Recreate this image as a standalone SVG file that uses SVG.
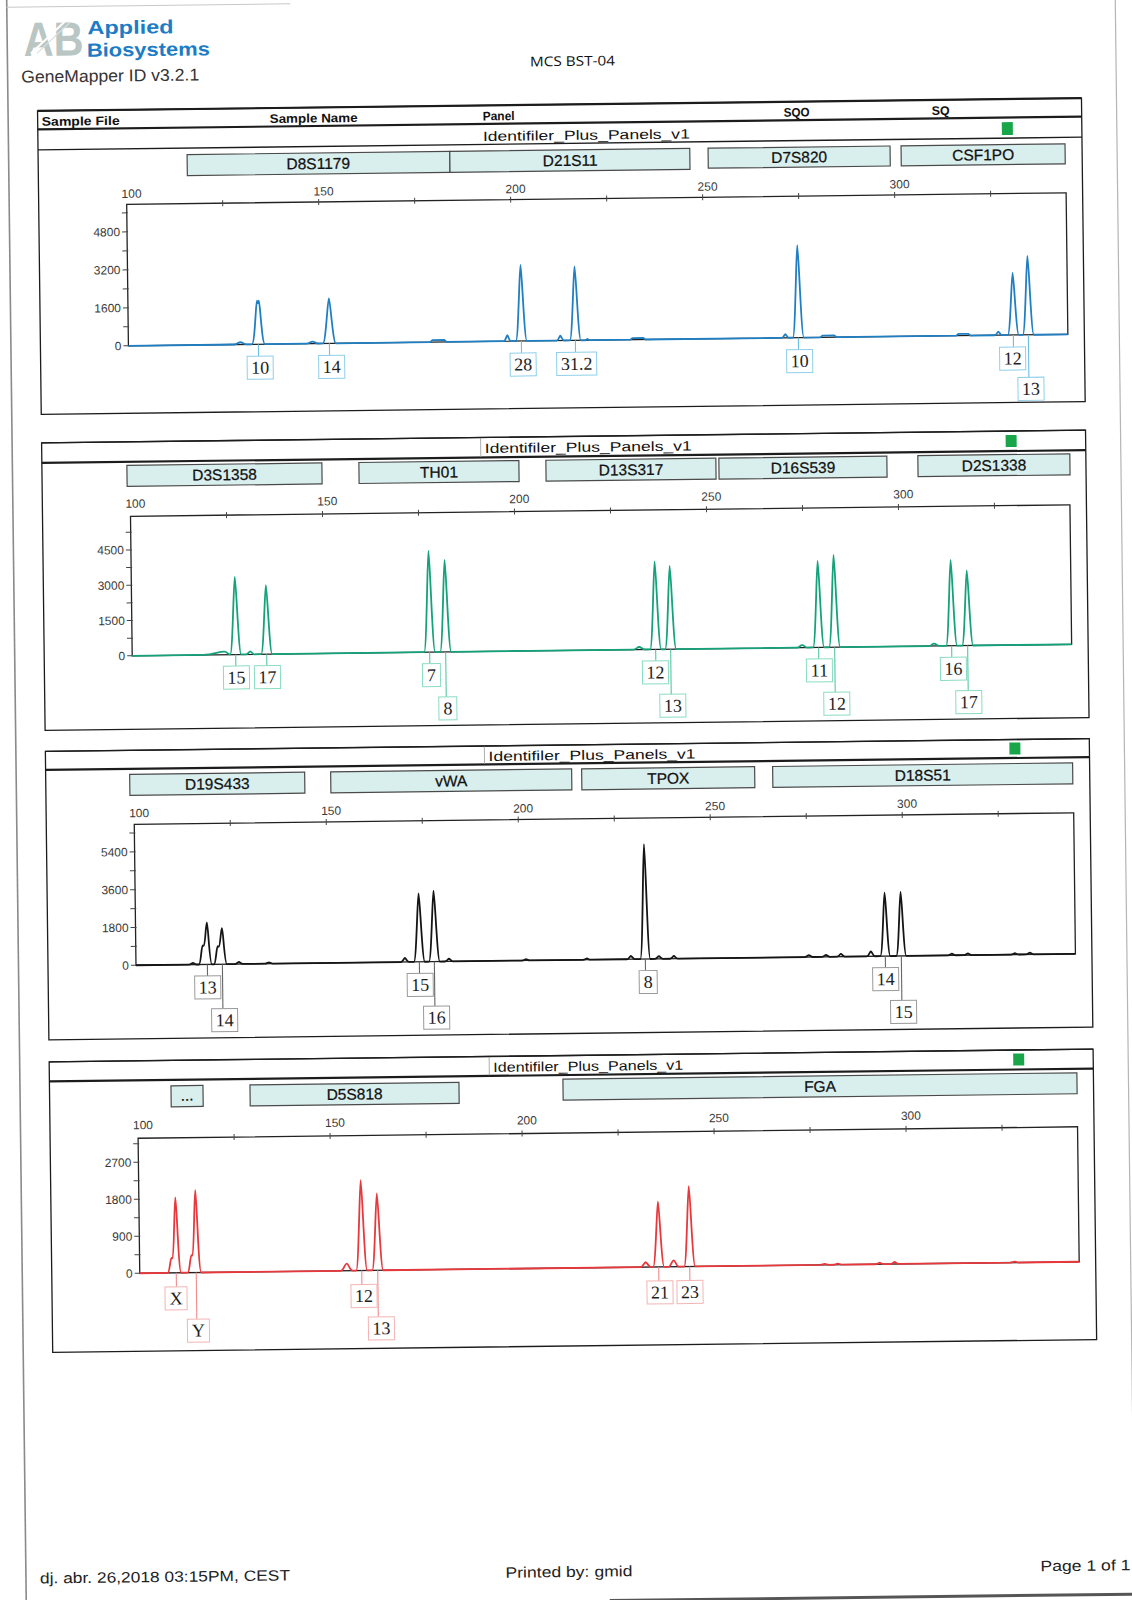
<svg xmlns="http://www.w3.org/2000/svg" width="1132" height="1600" viewBox="0 0 1132 1600">
<style>
.sans{font-family:"Liberation Sans",Arial,sans-serif}
.serif{font-family:"Liberation Serif","Times New Roman",serif}
.frame{fill:none;stroke:#1c1c1c;stroke-width:1.3}
.thick{stroke:#1c1c1c;stroke-width:2.2;fill:none}
.thin{stroke:#1c1c1c;stroke-width:1.4;fill:none}
.col{stroke:#9a9a9a;stroke-width:0.8}
.hdr{font-family:"Liberation Sans",Arial,sans-serif;font-size:12.5px;font-weight:bold;fill:#111}
.panel{font-family:"Liberation Sans",Arial,sans-serif;font-size:13.5px;fill:#111}
.sq{fill:#19a64a}
.loc{fill:#d9efee;stroke:#4a4a4a;stroke-width:1.2}
.lt{font-family:"Liberation Sans",Arial,sans-serif;font-size:15.5px;fill:#111;stroke:#111;stroke-width:0.25;text-anchor:middle}
.ax{font-family:"Liberation Sans",Arial,sans-serif;font-size:12px;fill:#3a3a3a;text-anchor:middle}
.yl{font-family:"Liberation Sans",Arial,sans-serif;font-size:12px;fill:#3a3a3a;text-anchor:end}
.plot{fill:#fff;stroke:#222;stroke-width:1.3}
.tick{stroke:#444;stroke-width:1;fill:none}
.al{font-family:"Liberation Serif","Times New Roman",serif;font-size:18px;fill:#1e1e1e;text-anchor:middle}
.tr{fill:none;stroke-width:1.8;stroke-linejoin:round}
.b1{fill:#fff;stroke:#8fd0ea;stroke-width:1}
.b2{fill:#fff;stroke:#8adcc4;stroke-width:1}
.b3{fill:#fff;stroke:#9a9a9a;stroke-width:1}
.b4{fill:#fff;stroke:#f4b4b4;stroke-width:1}
.c1{stroke:#6cc0e6;stroke-width:1.1}
.c2{stroke:#55c8a4;stroke-width:1.1}
.c3{stroke:#666;stroke-width:1.1}
.c4{stroke:#f08c8c;stroke-width:1.1}
</style>
<rect x="0" y="0" width="1132" height="1600" fill="#fff"/>
<g transform="rotate(-0.7 566 800)">
  <g id="page">
    <line x1="16.5" y1="-20" x2="16.5" y2="1620" stroke="#8a8a8a" stroke-width="1.6"/>
    <line x1="1125" y1="-20" x2="1125" y2="1590" stroke="#b5b5b5" stroke-width="1.2"/>
    <line x1="16" y1="0.5" x2="300" y2="0.5" stroke="#c8c8c8" stroke-width="1"/>
    <line x1="600" y1="1601" x2="1130" y2="1601" stroke="#555" stroke-width="3"/>
  </g>

  <g id="header">
    <text x="33" y="49.5" class="sans" font-size="48" font-weight="bold" fill="#b9c6c4" textLength="60" lengthAdjust="spacingAndGlyphs">AB</text>
    <line x1="40" y1="47" x2="74" y2="16" stroke="#fff" stroke-width="2"/>
    <line x1="46" y1="47" x2="80" y2="16" stroke="#d8e0df" stroke-width="1.2"/>
    <text x="97" y="28.5" class="sans" font-size="19" font-weight="bold" fill="#1d7cc6" textLength="86" lengthAdjust="spacingAndGlyphs">Applied</text>
    <text x="96" y="51" class="sans" font-size="19" font-weight="bold" fill="#1d7cc6" textLength="123" lengthAdjust="spacingAndGlyphs">Biosystems</text>
    <text x="30" y="76" class="sans" font-size="17" fill="#333" textLength="178" lengthAdjust="spacingAndGlyphs">GeneMapper ID v3.2.1</text>
    <text x="539" y="66" font-family="'Open Sans','Liberation Sans',sans-serif" font-size="13.5" fill="#111" textLength="85" lengthAdjust="spacingAndGlyphs">MCS BST-04</text>
  </g>

  <!-- PANEL 1 -->
  <g id="panel1">
    <rect x="46" y="104.5" width="1044" height="303.5" class="frame"/>
    <line x1="46" y1="104.5" x2="1090" y2="104.5" class="thick"/>
    <line x1="46" y1="123" x2="1090" y2="123" class="thick"/>
    <line x1="46" y1="143.5" x2="1090" y2="143.5" class="thin"/>
    <text x="50" y="119.5" class="hdr" textLength="78" lengthAdjust="spacingAndGlyphs">Sample File</text>
    <text x="278" y="119.5" class="hdr" textLength="88" lengthAdjust="spacingAndGlyphs">Sample Name</text>
    <text x="491" y="119.5" class="hdr" textLength="32" lengthAdjust="spacingAndGlyphs">Panel</text>
    <text x="792" y="119.5" class="hdr" textLength="26" lengthAdjust="spacingAndGlyphs">SQO</text>
    <text x="940" y="119.5" class="hdr" textLength="18" lengthAdjust="spacingAndGlyphs">SQ</text>
    <text x="491" y="140" class="panel" textLength="207" lengthAdjust="spacingAndGlyphs">Identifiler_Plus_Panels_v1</text>
    <rect x="1010" y="127.5" width="11" height="13" class="sq"/>
    <g id="p1-loci">
      <rect x="195" y="150" width="262.7" height="21" class="loc"/>
      <text x="326" y="166" class="lt">D8S1179</text>
      <rect x="457.7" y="150" width="240" height="21" class="loc"/>
      <text x="578" y="166" class="lt">D21S11</text>
      <rect x="716" y="150" width="182" height="20" class="loc"/>
      <text x="807" y="165.5" class="lt">D7S820</text>
      <rect x="909" y="150" width="164" height="20" class="loc"/>
      <text x="991" y="165.5" class="lt">CSF1PO</text>
    </g>
    <g id="p1-axes">
      <text x="139" y="192.5" class="ax">100</text>
      <text x="331" y="192.5" class="ax">150</text>
      <text x="523" y="192.5" class="ax">200</text>
      <text x="715" y="192.5" class="ax">250</text>
      <text x="907" y="192.5" class="ax">300</text>
      <rect x="134" y="199" width="939.5" height="141.5" class="plot"/>
      <path class="tick" d="M129 321.5h6M129 302.5h6M129 283.5h6M129 264.5h6M129 245.5h6M129 226.5h6M129 207.5h6M129 340.5h5M230 196v6M326 196v6M422 196v6M518 196v6M614 196v6M710 196v6M806 196v6M902 196v6M998 196v6"/>
      <text x="127" y="230.8" class="yl">4800</text>
      <text x="127" y="268.8" class="yl">3200</text>
      <text x="127" y="306.8" class="yl">1600</text>
      <text x="127" y="344.8" class="yl">0</text>
    </g>
    <path id="p1-trace" class="tr" stroke="#1f7fc2" d="M134 340.5 L240 340.5 C243 340.5 244 338.1 246 338.1 C248 338.1 249 340.5 252 340.5 L257.5 340.5 C260.5 340.5 262 297 263 297 L264 299.5 L265 297 C266 297 267.5 340.5 270.5 340.5 L312 340.5 C315 340.5 316 338.5 318 338.5 C320 338.5 321 340.5 324 340.5 L328.5 340.5 C331.5 340.5 333.7 295.5 335 295.5 C336.3 295.5 338.5 340.5 341.5 340.5 L436 340.5 L438 338.5 L450 338.5 L452 340.5 L509.5 340.5 C511 340.5 512.3 334.5 513 334.5 C513.7 334.5 515 340.5 516.5 340.5 L521.5 340.5 C524 340.5 525.9 264.5 527 264.5 C528.1 264.5 530 340.5 532.5 340.5 L562.5 340.5 C564 340.5 565.3 335.7 566 335.7 C566.7 335.7 568 340.5 569.5 340.5 L575.5 340.5 C578 340.5 579.9 266.5 581 266.5 C582.1 266.5 584 340.5 586.5 340.5 L591 340.5 L593 339.3 L595 340.5 L636 340.5 L638 339 L649 339 L651 340.5 L787.5 340.5 C789 340.5 790.3 336.9 791 336.9 C791.7 336.9 793 340.5 794.5 340.5 L798.5 340.5 C801 340.5 802.9 247.9 804 247.9 C805.1 247.9 807 340.5 809.5 340.5 L826 340.5 L828 338.8 L840 338.8 L842 340.5 L962 340.5 L964 338.8 L974 338.8 L976 340.5 L1000.5 340.5 C1002 340.5 1003.3 336.9 1004 336.9 C1004.7 336.9 1006 340.5 1007.5 340.5 L1013.5 340.5 C1016 340.5 1017.9 278.5 1019 278.5 C1020.1 278.5 1022 340.5 1024.5 340.5 L1028.5 340.5 C1031 340.5 1032.9 261.5 1034 261.5 C1035.1 261.5 1037 340.5 1039.5 340.5 L1073.5 340.5"/>
    <g id="connectors-p1">
      <line x1="264" y1="340.5" x2="264" y2="352.5" class="c1"/>
      <line x1="335" y1="340.5" x2="335" y2="352.5" class="c1"/>
      <line x1="527" y1="340.5" x2="527" y2="352.5" class="c1"/>
      <line x1="581" y1="340.5" x2="581" y2="352.5" class="c1"/>
      <line x1="804" y1="340.5" x2="804" y2="352.5" class="c1"/>
      <line x1="1019" y1="340.5" x2="1019" y2="352.5" class="c1"/>
      <line x1="1034" y1="340.5" x2="1034" y2="383" class="c1"/>
    </g>
    <g id="p1-alleles">
      <rect x="252.5" y="352.5" width="26" height="23" class="b1"/><text x="265.5" y="370" class="al">10</text>
      <rect x="324" y="352.5" width="26" height="23" class="b1"/><text x="337" y="370" class="al">14</text>
      <rect x="515.5" y="352.5" width="26" height="23" class="b1"/><text x="528.5" y="370" class="al">28</text>
      <rect x="562" y="352.5" width="40" height="23" class="b1"/><text x="582" y="370" class="al">31.2</text>
      <rect x="792" y="352.5" width="26" height="23" class="b1"/><text x="805" y="370" class="al">10</text>
      <rect x="1005" y="352.5" width="26" height="23" class="b1"/><text x="1018" y="370" class="al">12</text>
      <rect x="1023" y="383" width="26" height="23" class="b1"/><text x="1036" y="400.5" class="al">13</text>
    </g>
  </g>

  <!-- PANEL 2 -->
  <g id="panel2">
    <rect x="46" y="436.5" width="1044" height="287.5" class="frame"/>
    <line x1="46" y1="436.5" x2="1090" y2="436.5" class="thin"/>
    <line x1="46" y1="456.5" x2="1090" y2="456.5" class="thick"/>
    <line x1="485" y1="437" x2="485" y2="456" class="col"/>
    <text x="489" y="452" class="panel" textLength="207" lengthAdjust="spacingAndGlyphs">Identifiler_Plus_Panels_v1</text>
    <rect x="1010" y="440.5" width="11" height="12" class="sq"/>
    <g id="p2-loci">
      <rect x="131" y="460" width="195" height="21" class="loc"/>
      <text x="228.5" y="476" class="lt">D3S1358</text>
      <rect x="363" y="460" width="160" height="21" class="loc"/>
      <text x="443" y="476" class="lt">TH01</text>
      <rect x="550" y="460" width="170" height="21" class="loc"/>
      <text x="635" y="476" class="lt">D13S317</text>
      <rect x="723" y="460" width="168" height="21" class="loc"/>
      <text x="807" y="476" class="lt">D16S539</text>
      <rect x="922" y="460" width="152" height="21" class="loc"/>
      <text x="998" y="476" class="lt">D2S1338</text>
    </g>
    <g id="p2-axes">
      <text x="139" y="502.5" class="ax">100</text>
      <text x="331" y="502.5" class="ax">150</text>
      <text x="523" y="502.5" class="ax">200</text>
      <text x="715" y="502.5" class="ax">250</text>
      <text x="907" y="502.5" class="ax">300</text>
      <rect x="134" y="511" width="939.5" height="139.5" class="plot"/>
      <path class="tick" d="M129 632.85h6M129 615.2h6M129 597.55h6M129 579.9h6M129 562.25h6M129 544.6h6M129 526.95h6M129 650.5h5M230 508v6M326 508v6M422 508v6M518 508v6M614 508v6M710 508v6M806 508v6M902 508v6M998 508v6"/>
      <text x="127" y="548.9" class="yl">4500</text>
      <text x="127" y="584.2" class="yl">3000</text>
      <text x="127" y="619.5" class="yl">1500</text>
      <text x="127" y="654.8" class="yl">0</text>
    </g>
    <path id="p2-trace" class="tr" stroke="#13a27a" d="M134 650.5 L205 650.5 C215 650.5 220 647.5 226 647.5 C229 647.5 230 650.5 232 650.5 C234.5 650.5 236.4 572.8 237.5 572.8 C238.6 572.8 240.5 650.5 243 650.5 L248 650.5 C250 650.5 250.8 647.5 252 647.5 C253.2 647.5 254 650.5 256 650.5 L263 650.5 C265.5 650.5 267.4 581.5 268.5 581.5 C269.6 581.5 271.5 650.5 274 650.5 L426 650.5 C428.5 650.5 430.4 549.3 431.5 549.3 C432.6 549.3 434.5 650.5 437 650.5 L442 650.5 C444.5 650.5 446.4 558.5 447.5 558.5 C448.6 558.5 450.5 650.5 453 650.5 L635 650.5 C638 650.5 639 647.9 641 647.9 C643 647.9 644 650.5 647 650.5 L652 650.5 C654.5 650.5 656.4 562.5 657.5 562.5 C658.6 562.5 660.5 650.5 663 650.5 L667 650.5 C669.5 650.5 671.4 567.2 672.5 567.2 C673.6 567.2 675.5 650.5 678 650.5 L799 650.5 C801 650.5 802 648.1 804 648.1 C806 648.1 807 650.5 809 650.5 L815 650.5 C817.5 650.5 819.4 564.1 820.5 564.1 C821.6 564.1 823.5 650.5 826 650.5 L831 650.5 C833.5 650.5 835.4 558.3 836.5 558.3 C837.6 558.3 839.5 650.5 842 650.5 L931 650.5 C933 650.5 934 648.1 936 648.1 C938 648.1 939 650.5 941 650.5 L948 650.5 C950.5 650.5 952.4 564.6 953.5 564.6 C954.6 564.6 956.5 650.5 959 650.5 L964 650.5 C966.5 650.5 968.4 575.4 969.5 575.4 C970.6 575.4 972.5 650.5 975 650.5 L1073.5 650.5"/>
    <g id="connectors-p2">
      <line x1="237.5" y1="650.5" x2="237.5" y2="662" class="c2"/>
      <line x1="268.5" y1="650.5" x2="268.5" y2="662" class="c2"/>
      <line x1="431.5" y1="650.5" x2="431.5" y2="662" class="c2"/>
      <line x1="447.5" y1="650.5" x2="447.5" y2="695.5" class="c2"/>
      <line x1="657.5" y1="650.5" x2="657.5" y2="662" class="c2"/>
      <line x1="672.5" y1="650.5" x2="672.5" y2="695.5" class="c2"/>
      <line x1="820.5" y1="650.5" x2="820.5" y2="662" class="c2"/>
      <line x1="836.5" y1="650.5" x2="836.5" y2="695.5" class="c2"/>
      <line x1="953.5" y1="650.5" x2="953.5" y2="662" class="c2"/>
      <line x1="969.5" y1="650.5" x2="969.5" y2="695.5" class="c2"/>
    </g>
    <g id="p2-alleles">
      <rect x="225" y="662" width="26" height="23" class="b2"/><text x="238" y="679.5" class="al">15</text>
      <rect x="256" y="662" width="26" height="23" class="b2"/><text x="269" y="679.5" class="al">17</text>
      <rect x="424" y="662" width="18" height="23" class="b2"/><text x="433" y="679.5" class="al">7</text>
      <rect x="440" y="695.5" width="18" height="23" class="b2"/><text x="449" y="713" class="al">8</text>
      <rect x="644" y="662" width="26" height="23" class="b2"/><text x="657" y="679.5" class="al">12</text>
      <rect x="661" y="695.5" width="26" height="23" class="b2"/><text x="674" y="713" class="al">13</text>
      <rect x="808" y="662" width="26" height="23" class="b2"/><text x="821" y="679.5" class="al">11</text>
      <rect x="825" y="695.5" width="26" height="23" class="b2"/><text x="838" y="713" class="al">12</text>
      <rect x="942" y="662" width="26" height="23" class="b2"/><text x="955" y="679.5" class="al">16</text>
      <rect x="957" y="695.5" width="26" height="23" class="b2"/><text x="970" y="713" class="al">17</text>
    </g>
  </g>

  <!-- PANEL 3 -->
  <g id="panel3">
    <rect x="46" y="745" width="1044" height="288.5" class="frame"/>
    <line x1="46" y1="745" x2="1090" y2="745" class="thin"/>
    <line x1="46" y1="763.5" x2="1090" y2="763.5" class="thick"/>
    <line x1="485" y1="745.5" x2="485" y2="763" class="col"/>
    <text x="489" y="760" class="panel" textLength="207" lengthAdjust="spacingAndGlyphs">Identifiler_Plus_Panels_v1</text>
    <rect x="1010" y="748" width="11" height="12" class="sq"/>
    <g id="p3-loci">
      <rect x="130" y="769" width="175" height="21" class="loc"/>
      <text x="217.5" y="785" class="lt">D19S433</text>
      <rect x="331" y="769" width="241" height="21" class="loc"/>
      <text x="451.5" y="785" class="lt">vWA</text>
      <rect x="582" y="769" width="173" height="21" class="loc"/>
      <text x="668.5" y="785" class="lt">TPOX</text>
      <rect x="773" y="769" width="300" height="21" class="loc"/>
      <text x="923" y="785" class="lt">D18S51</text>
    </g>
    <g id="p3-axes">
      <text x="139" y="812" class="ax">100</text>
      <text x="331" y="812" class="ax">150</text>
      <text x="523" y="812" class="ax">200</text>
      <text x="715" y="812" class="ax">250</text>
      <text x="907" y="812" class="ax">300</text>
      <rect x="134" y="819" width="939.5" height="141" class="plot"/>
      <path class="tick" d="M129 941.1h6M129 922.2h6M129 903.3h6M129 884.4h6M129 865.5h6M129 846.6h6M129 827.7h6M129 960h5M230 816v6M326 816v6M422 816v6M518 816v6M614 816v6M710 816v6M806 816v6M902 816v6M998 816v6"/>
      <text x="127" y="850.9" class="yl">5400</text>
      <text x="127" y="888.7" class="yl">3600</text>
      <text x="127" y="926.5" class="yl">1800</text>
      <text x="127" y="964.3" class="yl">0</text>
    </g>
    <path id="p3-trace" class="tr" stroke="#141414" d="M134 960 L187 960 C189 960 190 958.3 191 958.3 C192 958.3 193 960 195 960 L197 960 C199 960 199.6 941 201 941 L202 941.5 C203.5 941.5 204.3 918 205.4 918 C206.5 918 207.5 960 210 960 L212 960 C214 960 214.6 942 216 942 L217 942.5 C218.5 942.5 219.3 924 220.4 924 C221.5 924 222.5 960 225 960 L233 960 C235 960 236 958 237 958 C238 958 239 960 241 960 L263 960 C265 960 266 958.7 267 958.7 C268 958.7 269 960 271 960 L399 960 C401 960 402 956 403 956 C404 956 405 960 407 960 L412 960 C414.5 960 416.3 891.6 417.4 891.6 C418.5 891.6 420.4 960 422.9 960 L427 960 C429.5 960 431.3 889 432.4 889 C433.5 889 435.4 960 437.9 960 L443 960 C445 960 446 957.3 447 957.3 C448 957.3 449 960 451 960 L520 960 C522 960 523 958.7 524 958.7 C525 958.7 526 960 528 960 L581 960 C583 960 584 958.7 585 958.7 C586 958.7 587 960 589 960 L625 960 C627 960 628 956.7 629 956.7 C630 956.7 631 960 633 960 L638.4 960 C640.9 960 642.3 845 643.4 845 C644.5 845 645.9 960 648.4 960 L653 960 C655 960 656 957.3 657 957.3 C658 957.3 659 960 661 960 L668 960 C670 960 671 957.3 672 957.3 C673 957.3 674 960 676 960 L803 960 C805 960 806 958 807 958 C808 958 809 960 811 960 L820 960 C822 960 823 958 824 958 C825 958 826 960 828 960 L835 960 C837 960 838 957.3 839 957.3 C840 957.3 841 960 843 960 L865 960 C867 960 868 955 869 955 C870 955 871 960 873 960 L878.4 960 C880.9 960 882.3 896.6 883.4 896.6 C884.5 896.6 885.9 960 888.4 960 L894.4 960 C896.9 960 898.3 896 899.4 896 C900.5 896 901.9 960 904.4 960 L946 960 C948 960 949 958.3 950 958.3 C951 958.3 952 960 954 960 L962 960 C964 960 965 958.3 966 958.3 C967 958.3 968 960 970 960 L1009 960 C1011 960 1012 958.7 1013 958.7 C1014 958.7 1015 960 1017 960 L1024 960 C1026 960 1027 958.3 1028 958.3 C1029 958.3 1030 960 1032 960 L1073.5 960"/>
    <g id="connectors-p3">
      <line x1="205.4" y1="960" x2="205.4" y2="971.5" class="c3"/>
      <line x1="220.4" y1="960" x2="220.4" y2="1004.5" class="c3"/>
      <line x1="417.4" y1="960" x2="417.4" y2="971.5" class="c3"/>
      <line x1="432.4" y1="960" x2="432.4" y2="1004.5" class="c3"/>
      <line x1="643.4" y1="960" x2="643.4" y2="971.5" class="c3"/>
      <line x1="883.4" y1="960" x2="883.4" y2="971.5" class="c3"/>
      <line x1="899.4" y1="960" x2="899.4" y2="1004.5" class="c3"/>
    </g>
    <g id="p3-alleles">
      <rect x="192.5" y="971.5" width="26" height="23" class="b3"/><text x="205.5" y="989" class="al">13</text>
      <rect x="209" y="1004.5" width="26" height="23" class="b3"/><text x="222" y="1022" class="al">14</text>
      <rect x="405" y="971.5" width="26" height="23" class="b3"/><text x="418" y="989" class="al">15</text>
      <rect x="421" y="1004.5" width="26" height="23" class="b3"/><text x="434" y="1022" class="al">16</text>
      <rect x="637" y="971.5" width="18" height="23" class="b3"/><text x="646" y="989" class="al">8</text>
      <rect x="870.5" y="971.5" width="26" height="23" class="b3"/><text x="883.5" y="989" class="al">14</text>
      <rect x="888" y="1004.5" width="26" height="23" class="b3"/><text x="901" y="1022" class="al">15</text>
    </g>
  </g>

  <!-- PANEL 4 -->
  <g id="panel4">
    <rect x="46" y="1055.5" width="1044" height="290.5" class="frame"/>
    <line x1="46" y1="1055.5" x2="1090" y2="1055.5" class="thin"/>
    <line x1="46" y1="1075" x2="1090" y2="1075" class="thick"/>
    <line x1="486" y1="1056" x2="486" y2="1074.5" class="col"/>
    <text x="490" y="1071" class="panel" textLength="190" lengthAdjust="spacingAndGlyphs">Identifiler_Plus_Panels_v1</text>
    <rect x="1010" y="1059" width="11" height="12" class="sq"/>
    <g id="p4-loci">
      <rect x="167.5" y="1081" width="32" height="21" class="loc"/>
      <text x="183.5" y="1096" class="lt" font-size="12">...</text>
      <rect x="246.5" y="1081" width="209" height="21" class="loc"/>
      <text x="351" y="1097" class="lt">D5S818</text>
      <rect x="559.5" y="1079" width="514" height="21" class="loc"/>
      <text x="816.5" y="1095" class="lt">FGA</text>
    </g>
    <g id="p4-axes">
      <text x="139" y="1124" class="ax">100</text>
      <text x="331" y="1124" class="ax">150</text>
      <text x="523" y="1124" class="ax">200</text>
      <text x="715" y="1124" class="ax">250</text>
      <text x="907" y="1124" class="ax">300</text>
      <rect x="134" y="1133" width="939.5" height="135" class="plot"/>
      <path class="tick" d="M129 1249.5h6M129 1231h6M129 1212.5h6M129 1194h6M129 1175.5h6M129 1157h6M129 1138.5h6M129 1268h5M230 1130v6M326 1130v6M422 1130v6M518 1130v6M614 1130v6M710 1130v6M806 1130v6M902 1130v6M998 1130v6"/>
      <text x="127" y="1161.3" class="yl">2700</text>
      <text x="127" y="1198.3" class="yl">1800</text>
      <text x="127" y="1235.3" class="yl">900</text>
      <text x="127" y="1272.3" class="yl">0</text>
    </g>
    <path id="p4-trace" class="tr" stroke="#e8383c" d="M134 1268 L162 1268 C164 1268 164.6 1253 166 1253 L167 1253.5 C168.5 1253.5 169.4 1192.6 170.5 1192.6 C171.6 1192.6 172.8 1268 175.5 1268 L182 1268 C184 1268 184.6 1250.5 186 1250.5 L187 1251 C188.5 1251 189.4 1185.6 190.5 1185.6 C191.6 1185.6 192.8 1268 195.5 1268 L335 1268 C338 1268 339 1261 341 1261 C343 1261 344 1268 347 1268 L350.5 1268 C353 1268 354.9 1177.6 356 1177.6 C357.1 1177.6 359 1268 361.5 1268 L366.5 1268 C369 1268 370.9 1191 372 1191 C373.1 1191 375 1268 377.5 1268 L635 1268 C637 1268 638.5 1263.2 640 1263.2 C641.5 1263.2 643 1268 645 1268 L647.5 1268 C650 1268 651.9 1202.8 653 1202.8 C654.1 1202.8 656 1268 658.5 1268 L663 1268 C665 1268 666.5 1261.6 668 1261.6 C669.5 1261.6 671 1268 673 1268 L678.5 1268 C681 1268 682.9 1187.5 684 1187.5 C685.1 1187.5 687 1268 689.5 1268 L815 1268 L819 1267 L823 1268 L828 1268 L832 1267 L836 1268 L870 1268 C872 1268 873 1266.5 874 1266.5 C875 1266.5 876 1268 878 1268 L885 1268 C887 1268 888 1266 889 1266 C890 1266 891 1268 893 1268 L1005 1268 L1009 1267 L1013 1268 L1073.5 1268"/>
    <g id="connectors-p4">
      <line x1="170.5" y1="1268" x2="170.5" y2="1282" class="c4"/>
      <line x1="190.5" y1="1268" x2="190.5" y2="1314.5" class="c4"/>
      <line x1="356" y1="1268" x2="356" y2="1282" class="c4"/>
      <line x1="372" y1="1268" x2="372" y2="1314.5" class="c4"/>
      <line x1="653" y1="1268" x2="653" y2="1282" class="c4"/>
      <line x1="684" y1="1268" x2="684" y2="1282" class="c4"/>
    </g>
    <g id="p4-alleles">
      <rect x="159" y="1282" width="22" height="23" class="b4"/><text x="170" y="1299.5" class="al">X</text>
      <rect x="181" y="1314.5" width="22" height="23" class="b4"/><text x="192" y="1332" class="al">Y</text>
      <rect x="345" y="1282" width="26" height="23" class="b4"/><text x="358" y="1299.5" class="al">12</text>
      <rect x="362" y="1314.5" width="26" height="23" class="b4"/><text x="375" y="1332" class="al">13</text>
      <rect x="641" y="1282" width="26" height="23" class="b4"/><text x="654" y="1299.5" class="al">21</text>
      <rect x="671" y="1282" width="26" height="23" class="b4"/><text x="684" y="1299.5" class="al">23</text>
    </g>
  </g>

  <g id="footer">
    <text x="30.5" y="1577" class="sans" font-size="15" fill="#222" textLength="250" lengthAdjust="spacingAndGlyphs">dj. abr. 26,2018 03:15PM, CEST</text>
    <text x="496" y="1577" class="sans" font-size="15" fill="#222" textLength="127" lengthAdjust="spacingAndGlyphs">Printed by: gmid</text>
    <text x="1031" y="1577" class="sans" font-size="15" fill="#222" textLength="90" lengthAdjust="spacingAndGlyphs">Page 1 of 1</text>
  </g>
</g>
</svg>
